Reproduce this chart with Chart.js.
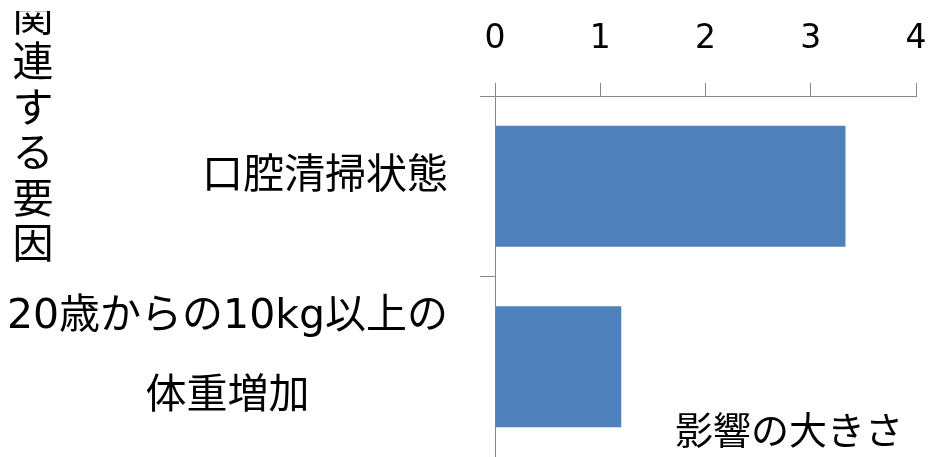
<!DOCTYPE html>
<html>
<head>
<meta charset="utf-8">
<script src="https://cdn.jsdelivr.net/npm/chart.js@4/dist/chart.umd.min.js"></script>
<style>
    html, body { margin: 0; padding: 0; background: #fff; }
    #contenedor { width: 928px; height: 457px; position: relative; }
</style>
</head>
<body>
<div id="contenedor"><canvas id="chartFactores"></canvas></div>
<script>
// datos del gráfico
const categorias = ['口腔清掃状態', ['20歳からの10kg以上の', '体重増加']];
const valores = [3.33, 1.2];
const ticksX = [0, 1, 2, 3, 4];
const tituloX = '影響の大きさ';
const tituloY = '関連する要因';

const colorEje = '#868686';
const fuenteJP = '"DejaVu Sans", "Noto Sans CJK JP", sans-serif';

// etiquetas de categorías (bloque alineado a la derecha, líneas centradas)
const pluginEtiquetas = {
    id: 'etiquetas',
    afterDraw(chart) {
        const ctx = chart.ctx;
        const escalaY = chart.scales.y;
        ctx.save();
        ctx.fillStyle = '#000';
        ctx.textBaseline = 'middle';
        ctx.textAlign = 'center';
        ctx.font = '41px ' + fuenteJP;
        categorias.forEach((cat, i) => {
            const lineas = Array.isArray(cat) ? cat : [cat];
            const anchoMax = Math.max(...lineas.map(l => ctx.measureText(l).width));
            const centroX = 448 - anchoMax / 2;
            const centroY = escalaY.getPixelForValue(i) - 9;
            lineas.forEach((l, k) => {
                ctx.fillText(l, centroX, centroY + (k - (lineas.length - 1) / 2) * 80);
            });
        });

        // título eje X dentro del área, abajo a la derecha
        ctx.font = '38px ' + fuenteJP;
        ctx.fillText(tituloX, 789, 434);

        // título eje Y en vertical, un carácter por fila
        ctx.beginPath();
        ctx.rect(0, 11, 100, 446);
        ctx.clip();
        ctx.font = '41px ' + fuenteJP;
        Array.from(tituloY).forEach((c, i) => {
            ctx.fillText(c, 33, 20 + i * 45.5);
        });
        ctx.restore();
    }
};

const chartFactores = new Chart(document.getElementById('chartFactores'), {
    type: 'bar',
    data: {
        labels: categorias,
        datasets: [{
            data: valores,
            backgroundColor: '#4F81BD',
            borderWidth: 0,
            barPercentage: 0.67,
            categoryPercentage: 1
        }]
    },
    options: {
        indexAxis: 'y',
        responsive: true,
        maintainAspectRatio: false,
        animation: false,
        layout: { padding: { top: 0, right: 12, bottom: 0, left: 0 } },
        plugins: {
            legend: { display: false },
            tooltip: { enabled: false }
        },
        scales: {
            x: {
                position: 'top',
                min: ticksX[0],
                max: ticksX[ticksX.length - 1],
                afterBuildTicks: function(scale) {
                    scale.ticks = ticksX.map(v => ({ value: v }));
                },
                afterFit: function(scale) {
                    scale.height = 96;
                    scale.paddingLeft = 0;
                    scale.paddingRight = 0;
                },
                grid: {
                    drawOnChartArea: false,
                    drawTicks: true,
                    tickLength: 13,
                    color: colorEje,
                    tickColor: colorEje
                },
                border: { color: colorEje, width: 1 },
                ticks: {
                    padding: 24,
                    color: '#000',
                    font: { family: 'DejaVu Sans', size: 33 }
                }
            },
            y: {
                afterFit: function(scale) {
                    scale.width = 495;
                    scale.paddingTop = 0;
                    scale.paddingBottom = 0;
                },
                grid: {
                    offset: true,
                    drawOnChartArea: false,
                    drawTicks: true,
                    tickLength: 15,
                    color: colorEje,
                    tickColor: colorEje
                },
                border: { color: colorEje, width: 1 },
                ticks: { display: false }
            }
        }
    },
    plugins: [pluginEtiquetas]
});
</script>
</body>
</html>
